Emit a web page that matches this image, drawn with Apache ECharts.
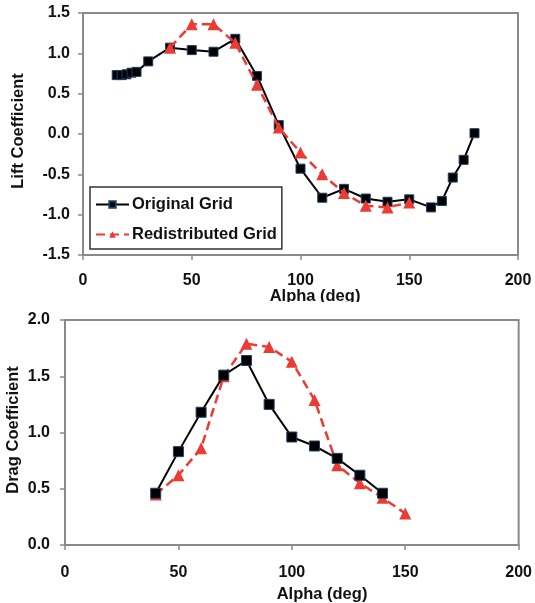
<!DOCTYPE html>
<html>
<head>
<meta charset="utf-8">
<script src="https://cdn.jsdelivr.net/npm/echarts@6/dist/echarts.min.js"></script>
<style>
  html, body { margin: 0; padding: 0; background: #fff; }
  #chart { width: 535px; height: 603px; }
</style>
</head>
<body>
<div id="chart"></div>
<script>
// Lift coefficient vs angle of attack
var liftAlphaOriginal = [15.5, 17.8, 20, 22.3, 24.6, 30, 40, 50, 60, 70, 80, 90, 100, 110, 120, 130, 140, 150, 160, 165, 170, 175, 180];
var liftOriginal = [0.73, 0.73, 0.74, 0.76, 0.77, 0.90, 1.07, 1.04, 1.02, 1.18, 0.72, 0.11, -0.43, -0.79, -0.68, -0.80, -0.84, -0.81, -0.91, -0.83, -0.54, -0.32, 0.01];
var liftAlphaRedist = [40, 50, 60, 70, 80, 90, 100, 110, 120, 130, 140, 150];
var liftRedist = [1.07, 1.36, 1.36, 1.13, 0.61, 0.08, -0.23, -0.50, -0.73, -0.89, -0.91, -0.85];

// Drag coefficient vs angle of attack
var dragAlphaOriginal = [40, 50, 60, 70, 80, 90, 100, 110, 120, 130, 140];
var dragOriginal = [0.46, 0.83, 1.18, 1.51, 1.64, 1.25, 0.96, 0.88, 0.77, 0.62, 0.46];
var dragAlphaRedist = [40, 50, 60, 70, 80, 90, 100, 110, 120, 130, 140, 150];
var dragRedist = [0.45, 0.62, 0.86, 1.50, 1.79, 1.76, 1.63, 1.29, 0.71, 0.55, 0.42, 0.28];

var liftTicks = [-1.5, -1.0, -0.5, 0.0, 0.5, 1.0, 1.5];
var dragTicks = [0.0, 0.5, 1.0, 1.5, 2.0];
var alphaTicks = [0, 50, 100, 150, 200];

function pairs(xs, ys) {
  return xs.map(function (x, i) { return [x, ys[i]]; });
}

var FONT = '"Liberation Sans", Arial, sans-serif';
var AXIS_GREY = '#8a8a8a';
var RED = '#ec3a34';

function valueAxis(gridIndex, min, max, interval, margin, digits) {
  return {
    type: 'value',
    gridIndex: gridIndex,
    min: min,
    max: max,
    interval: interval,
    splitLine: { show: false },
    axisLine: { show: true, onZero: false, lineStyle: { color: AXIS_GREY, width: 2 } },
    axisTick: { show: true, inside: false, length: 5, lineStyle: { color: AXIS_GREY, width: 1.5 } },
    axisLabel: {
      margin: margin,
      color: '#111',
      fontFamily: FONT,
      fontWeight: 'bold',
      fontSize: 16,
      formatter: function (v) { return digits ? v.toFixed(digits) : String(v); }
    }
  };
}

var chart = echarts.init(document.getElementById('chart'), null, { renderer: 'canvas' });

var option = {
  animation: false,
  backgroundColor: '#fff',
  grid: [
    { left: 83, right: 17, top: 13, height: 242, show: true, borderColor: AXIS_GREY, borderWidth: 2, backgroundColor: 'transparent' },
    { left: 65, right: 13, top: 320, height: 225, show: true, borderColor: AXIS_GREY, borderWidth: 2, backgroundColor: 'transparent' }
  ],
  xAxis: [
    valueAxis(0, alphaTicks[0], alphaTicks[alphaTicks.length - 1], 50, 18, 0),
    valueAxis(1, alphaTicks[0], alphaTicks[alphaTicks.length - 1], 50, 20, 0)
  ],
  yAxis: [
    valueAxis(0, liftTicks[0], liftTicks[liftTicks.length - 1], 0.5, 13, 1),
    valueAxis(1, dragTicks[0], dragTicks[dragTicks.length - 1], 0.5, 15, 1)
  ],
  legend: {
    left: 90,
    top: 187,
    orient: 'vertical',
    align: 'left',
    backgroundColor: '#fff',
    borderColor: '#333',
    borderWidth: 1.5,
    borderRadius: 0,
    padding: [9, 5, 6, 5],
    itemGap: 13,
    itemWidth: 33,
    itemHeight: 8,
    textStyle: { color: '#111', fontFamily: FONT, fontWeight: 'bold', fontSize: 16.5, padding: [0, 0, 0, -2] },
    data: ['Original Grid', 'Redistributed Grid']
  },
  series: [
    {
      name: 'Original Grid',
      type: 'line',
      xAxisIndex: 0, yAxisIndex: 0,
      data: pairs(liftAlphaOriginal, liftOriginal),
      symbol: 'rect', symbolSize: 9,
      lineStyle: { color: '#000', width: 2 },
      itemStyle: { color: '#000', borderColor: '#1d3f66', borderWidth: 1 },
      z: 2
    },
    {
      name: 'Redistributed Grid',
      type: 'line',
      xAxisIndex: 0, yAxisIndex: 0,
      data: pairs(liftAlphaRedist, liftRedist),
      symbol: 'triangle', symbolSize: 12,
      lineStyle: { color: RED, width: 2.5, type: [9, 5] },
      itemStyle: { color: RED },
      z: 3
    },
    {
      name: 'Redistributed Grid',
      type: 'line',
      xAxisIndex: 1, yAxisIndex: 1,
      data: pairs(dragAlphaRedist, dragRedist),
      symbol: 'triangle', symbolSize: 12,
      lineStyle: { color: RED, width: 2.5, type: [9, 5] },
      itemStyle: { color: RED },
      z: 2
    },
    {
      name: 'Original Grid',
      type: 'line',
      xAxisIndex: 1, yAxisIndex: 1,
      data: pairs(dragAlphaOriginal, dragOriginal),
      symbol: 'rect', symbolSize: 10,
      lineStyle: { color: '#000', width: 2 },
      itemStyle: { color: '#000', borderColor: '#1d3f66', borderWidth: 1 },
      z: 3
    }
  ],
  graphic: [
    {
      type: 'text', x: 18, y: 131, rotation: Math.PI / 2,
      style: { text: 'Lift Coefficient', fill: '#111', font: 'bold 16.5px ' + FONT, align: 'center', verticalAlign: 'middle' }
    },
    {
      type: 'text', x: 315, y: 296,
      style: { text: 'Alpha (deg)', fill: '#111', font: 'bold 16.5px ' + FONT, align: 'center', verticalAlign: 'middle' }
    },
    {
      type: 'rect', shape: { x: 250, y: 302, width: 140, height: 12 },
      style: { fill: '#fff' }, z: 10
    },
    {
      type: 'text', x: 13, y: 430, rotation: Math.PI / 2,
      style: { text: 'Drag Coefficient', fill: '#111', font: 'bold 16.5px ' + FONT, align: 'center', verticalAlign: 'middle' }
    },
    {
      type: 'text', x: 322, y: 594,
      style: { text: 'Alpha (deg)', fill: '#111', font: 'bold 16.5px ' + FONT, align: 'center', verticalAlign: 'middle' }
    }
  ]
};

chart.setOption(option);
</script>
</body>
</html>
